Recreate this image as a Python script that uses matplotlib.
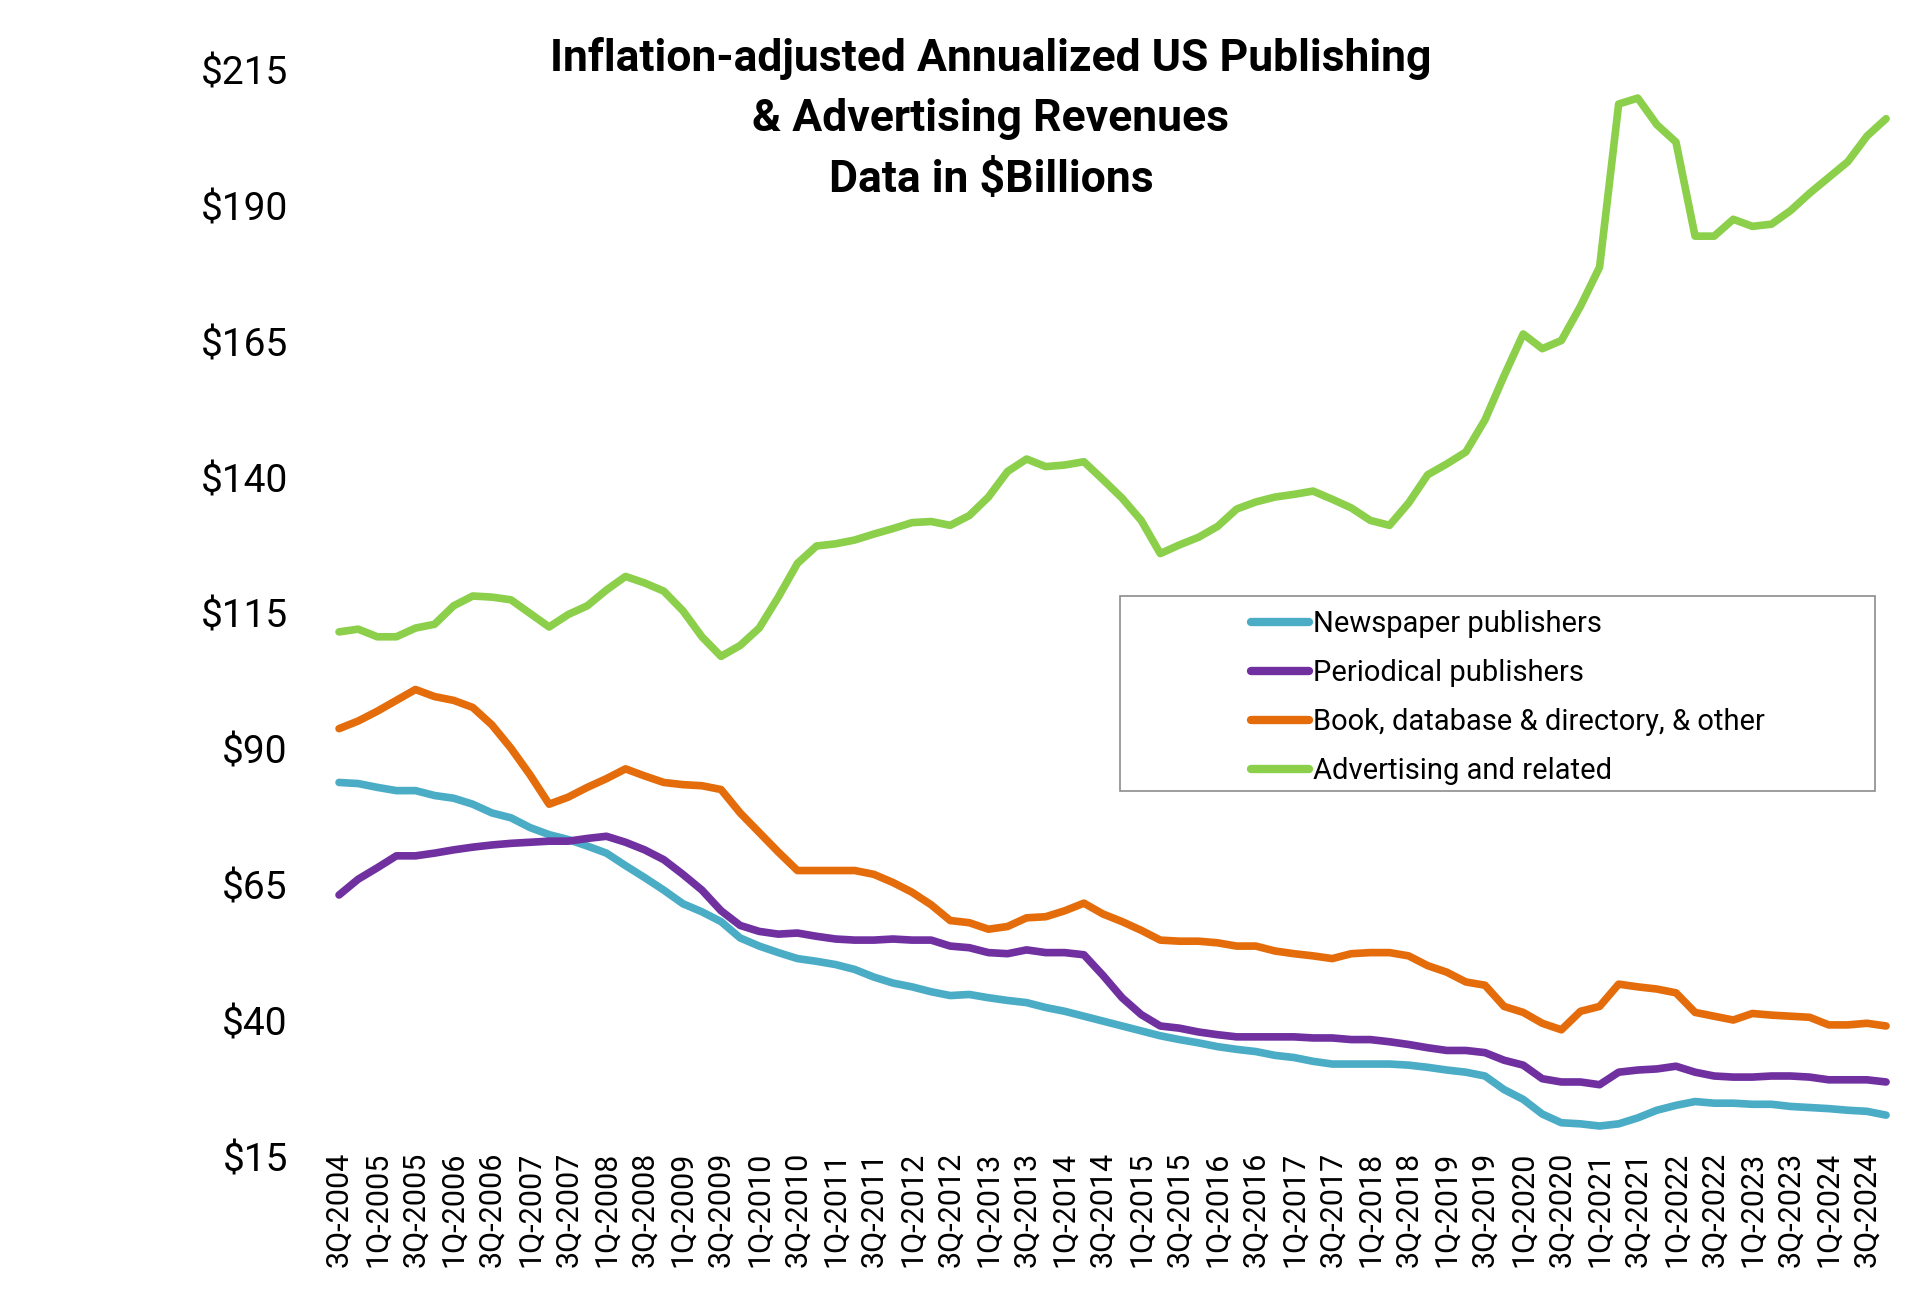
import matplotlib
matplotlib.use("Agg")
import matplotlib.pyplot as plt
from matplotlib import font_manager
from matplotlib.patches import Rectangle

# ---------------- data ----------------
quarters = []
q, y = 3, 2004
for _ in range(82):
    quarters.append(f"{q}Q-{y}")
    q += 1
    if q > 4:
        q, y = 1, y + 1

newspaper = [83.9, 83.7, 83.0, 82.4, 82.4, 81.5, 81.0, 79.9, 78.3, 77.4,
             75.6, 74.3, 73.4, 72.2, 70.9, 68.6, 66.4, 64.1, 61.6, 60.1,
             58.3, 55.3, 53.8, 52.6, 51.5, 51.0, 50.4, 49.5, 48.1, 47.0,
             46.3, 45.4, 44.7, 44.9, 44.3, 43.8, 43.4, 42.5, 41.8, 40.9,
             40.0, 39.1, 38.2, 37.3, 36.6, 36.0, 35.3, 34.8, 34.4, 33.7,
             33.3, 32.6, 32.1, 32.1, 32.1, 32.1, 31.9, 31.5, 31.0, 30.6,
             29.9, 27.4, 25.6, 22.9, 21.3, 21.1, 20.7, 21.1, 22.2, 23.6,
             24.5, 25.2, 24.9, 24.9, 24.7, 24.7, 24.3, 24.1, 23.9, 23.6,
             23.4, 22.7]

periodical = [63.2, 66.1, 68.2, 70.4, 70.4, 70.9, 71.5, 72.0, 72.4, 72.7,
              72.9, 73.1, 73.1, 73.6, 74.0, 72.9, 71.5, 69.7, 67.0, 64.1,
              60.3, 57.6, 56.5, 56.0, 56.2, 55.6, 55.1, 54.9, 54.9, 55.1,
              54.9, 54.9, 53.8, 53.5, 52.6, 52.4, 53.1, 52.6, 52.6, 52.2,
              48.4, 44.3, 41.2, 39.1, 38.7, 38.0, 37.5, 37.1, 37.1, 37.1,
              37.1, 36.9, 36.9, 36.6, 36.6, 36.2, 35.7, 35.1, 34.6, 34.6,
              34.2, 32.8, 31.9, 29.4, 28.8, 28.8, 28.3, 30.6, 31.0, 31.2,
              31.7, 30.6, 29.9, 29.7, 29.7, 29.9, 29.9, 29.7, 29.2, 29.2,
              29.2, 28.8]

book = [93.8, 95.2, 97.0, 99.0, 101.0, 99.7, 99.0, 97.7, 94.5, 90.2,
        85.3, 79.9, 81.2, 83.0, 84.6, 86.4, 85.1, 83.9, 83.5, 83.3,
        82.6, 78.3, 74.7, 71.1, 67.7, 67.7, 67.7, 67.7, 67.0, 65.5,
        63.7, 61.4, 58.5, 58.1, 56.9, 57.4, 59.0, 59.2, 60.3, 61.7,
        59.7, 58.3, 56.7, 54.9, 54.7, 54.7, 54.4, 53.8, 53.8, 52.9,
        52.4, 52.0, 51.5, 52.4, 52.6, 52.6, 52.0, 50.2, 49.0, 47.2,
        46.6, 42.7, 41.6, 39.6, 38.4, 41.8, 42.7, 46.8, 46.3, 45.9,
        45.2, 41.6, 40.9, 40.2, 41.4, 41.1, 40.9, 40.7, 39.3, 39.3,
        39.6, 39.1]

advertising = [111.6, 112.1, 110.7, 110.7, 112.3, 113.0, 116.4, 118.2, 118.0, 117.5,
               115.0, 112.5, 114.8, 116.4, 119.3, 121.8, 120.6, 119.1, 115.5, 110.7,
               107.1, 109.1, 112.3, 118.0, 124.2, 127.4, 127.8, 128.5, 129.6, 130.6,
               131.7, 131.9, 131.2, 133.0, 136.4, 141.1, 143.4, 142.0, 142.3, 142.9,
               139.6, 136.2, 132.1, 126.0, 127.6, 129.0, 131.0, 134.2, 135.5, 136.4,
               136.9, 137.5, 136.0, 134.4, 132.1, 131.2, 135.3, 140.5, 142.5, 144.7,
               150.6, 158.7, 166.4, 163.7, 165.2, 171.5, 178.7, 208.7, 209.8, 204.9,
               201.7, 184.4, 184.4, 187.5, 186.2, 186.6, 189.1, 192.3, 195.2, 198.1,
               202.8, 206.0]

series_names = ["Newspaper publishers", "Periodical publishers",
                "Book, database & directory, & other", "Advertising and related"]
series_colors = ["#4BACC6", "#7030A0", "#E46C0A", "#8BCF4A"]

y_ticks = [15, 40, 65, 90, 115, 140, 165, 190, 215]
y_tick_labels = [f"${v}" for v in y_ticks]

title_lines = ["Inflation-adjusted Annualized US Publishing",
               "& Advertising Revenues",
               "Data in $Billions"]

# ---------------- fonts ----------------
avail = {f.name for f in font_manager.fontManager.ttflist}
def pick(*names):
    for n in names:
        if n in avail:
            return n
    return "DejaVu Sans"

narrow = pick("Liberation Sans Narrow", "DejaVu Sans Condensed", "Roboto", "DejaVu Sans")
plain = pick("Roboto", "DejaVu Sans")

# ---------------- figure ----------------
W, H = 1920, 1310
fig = plt.figure(figsize=(W / 100, H / 100), dpi=100)
fig.patch.set_facecolor("white")

ax_left, ax_right = 329.5, 1895.6
ax_top, ax_bottom = 69.8, 1157.0
ax = fig.add_axes([ax_left / W, 1 - ax_bottom / H,
                   (ax_right - ax_left) / W, (ax_bottom - ax_top) / H])

x = list(range(len(quarters)))
for data, name, col in zip([newspaper, periodical, book, advertising], series_names, series_colors):
    ax.plot(x, data, color=col, lw=5.5, label=name,
            solid_joinstyle="round", solid_capstyle="round", clip_on=False)

ax.set_xlim(-0.5, len(quarters) - 0.5)
ax.set_ylim(15, 215)
ax.set_yticks(y_ticks)
ax.set_yticklabels(y_tick_labels, fontsize=28, family=narrow)
ax.set_xticks(x[::2])
ax.set_xticklabels(quarters[::2], rotation=90, fontsize=22, family=plain)
ax.tick_params(axis="y", length=0, pad=30)
ax.tick_params(axis="x", length=0, pad=-4)
for s in ax.spines.values():
    s.set_visible(False)
ax.set_facecolor("none")

# title
baselines = [71, 131, 192]
for line, b in zip(title_lines, baselines):
    fig.text(991 / W, 1 - b / H, line, ha="center", va="baseline",
             fontsize=32, fontweight="bold", family=narrow)

# legend frame
bx0, by0, bx1, by1 = 1120, 596, 1875, 791
fig.patches.append(Rectangle((bx0 / W, 1 - by1 / H), (bx1 - bx0) / W, (by1 - by0) / H,
                             transform=fig.transFigure, facecolor="white",
                             edgecolor="#8c8c8c", lw=1.2, zorder=3))
leg = fig.legend(loc="center left", bbox_to_anchor=(1251 / W, 1 - 697.5 / H),
                 frameon=False, prop={"family": narrow, "size": 21},
                 handlelength=2.0, handletextpad=0.12, labelspacing=0.72,
                 borderpad=0, borderaxespad=0)
leg.set_zorder(4)
for h in leg.get_lines():
    h.set_linewidth(6)
    h.set_solid_capstyle("round")

fig.savefig("out.png", dpi=100, facecolor="white")
